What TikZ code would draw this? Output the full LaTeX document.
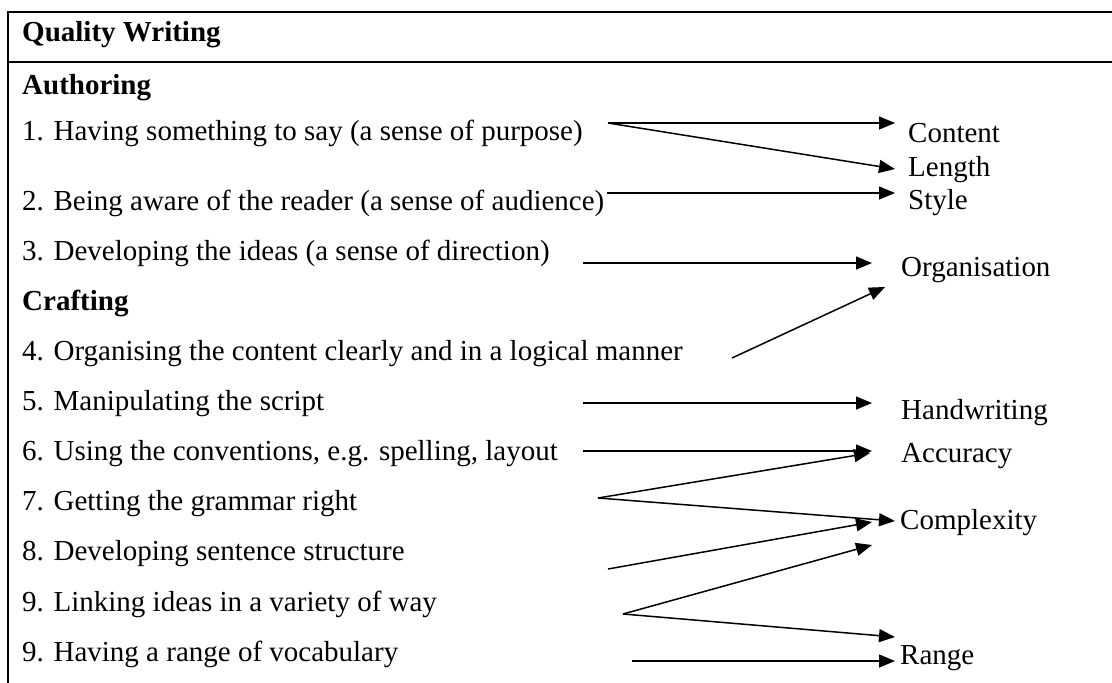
\documentclass[tikz,border=0pt]{standalone}
\usepackage{fontspec}
\setmainfont{Liberation Serif}
\usetikzlibrary{arrows.meta}

\tikzset{
  item/.style={anchor=base west, inner sep=0pt, font=\fontsize{29}{34}\selectfont},
  head/.style={item, font=\fontsize{29}{34}\selectfont\bfseries},
  link/.style={line width=1.5pt, -{Triangle[length=16pt,width=13pt]}},
  rule/.style={line width=1.5pt}
}

\begin{document}
\begin{tikzpicture}[x=1pt, y=-1pt]
  \useasboundingbox (0,0) rectangle (1112,683);
  % table frame
  \draw [rule] (1112,12) -- (8,12) -- (8,683);
  \draw [rule] (8,62) -- (1112,62);

  % left column
  \node [head] (qw) at (22,41) {Quality Writing};
  \node [head] (auth) at (22,94) {Authoring};
  \node [item] (i1) at (22,140) {1. Having something to say (a sense of purpose)};
  \node [item] (i2) at (22,210) {2. Being aware of the reader (a sense of audience)};
  \node [item] (i3) at (22,260) {3. Developing the ideas (a sense of direction)};
  \node [head] (craft) at (22,310) {Crafting};
  \node [item] (i4) at (22,360) {4. Organising the content clearly and in a logical manner};
  \node [item] (i5) at (22,410) {5. Manipulating the script};
  \node [item] (i6) at (22,460) {6. Using the conventions, e.g. spelling, layout};
  \node [item] (i7) at (22,510) {7. Getting the grammar right};
  \node [item] (i8) at (22,560) {8. Developing sentence structure};
  \node [item] (i9) at (22,611) {9. Linking ideas in a variety of way};
  \node [item] (i10) at (22,661) {9. Having a range of vocabulary};

  % right column
  \node [item] (content) at (908,142) {Content};
  \node [item] (length) at (908,176) {Length};
  \node [item] (style) at (908,209) {Style};
  \node [item] (organ) at (901,276) {Organisation};
  \node [item] (hand) at (901,419) {Handwriting};
  \node [item] (accu) at (901,462) {Accuracy};
  \node [item] (compl) at (900,529) {Complexity};
  \node [item] (range) at (900,664) {Range};

  % arrow ends
  \coordinate (o1) at (608,123);
  \coordinate (o2) at (607,193);
  \coordinate (o3) at (583,263);
  \coordinate (o4) at (732,358);
  \coordinate (o5) at (583,403);
  \coordinate (o6) at (583,451);
  \coordinate (o7) at (598,498);
  \coordinate (o8) at (608,569);
  \coordinate (o9) at (623,614);
  \coordinate (o10) at (632,661);
  \coordinate (tcontent) at (895,123);
  \coordinate (tlength) at (895,169);
  \coordinate (tstyle) at (895,193);
  \coordinate (torgan) at (872,263);
  \coordinate (torganb) at (885,287);
  \coordinate (thand) at (872,403);
  \coordinate (taccu) at (872,451);
  \coordinate (taccub) at (870,453);
  \coordinate (tcompl) at (895,521);
  \coordinate (tcomplb) at (872,522);
  \coordinate (tcomplc) at (872,545);
  \coordinate (trange) at (895,637);
  \coordinate (trangeb) at (895,661);

  \draw [link] (o1) -- (tcontent);
  \draw [link] (o1) -- (tlength);
  \draw [link] (o2) -- (tstyle);
  \draw [link] (o3) -- (torgan);
  \draw [link] (o4) -- (torganb);
  \draw [link] (o5) -- (thand);
  \draw [link] (o6) -- (taccu);
  \draw [link] (o7) -- (taccub);
  \draw [link] (o7) -- (tcompl);
  \draw [link] (o8) -- (tcomplb);
  \draw [link] (o9) -- (tcomplc);
  \draw [link] (o9) -- (trange);
  \draw [link] (o10) -- (trangeb);
\end{tikzpicture}
\end{document}
